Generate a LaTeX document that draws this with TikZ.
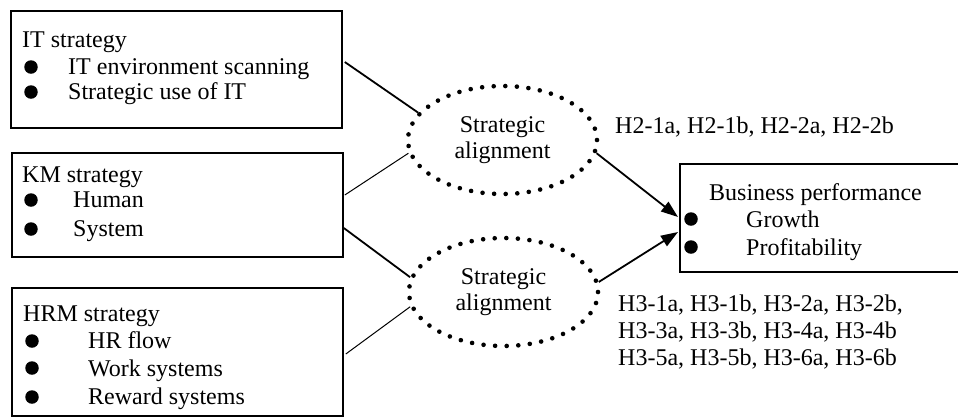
\documentclass[tikz,border=0pt]{standalone}
\usepackage{fontspec}
\setmainfont{Liberation Serif}
\usetikzlibrary{shapes.geometric,arrows.meta,calc}
\begin{document}
\begin{tikzpicture}[x=1pt,y=-1pt,
  every node/.style={font=\fontsize{24}{27}\selectfont},
  box/.style={draw, line width=1.8pt, rectangle, inner sep=0pt, anchor=north west},
  txt/.style={anchor=base west, inner sep=0pt},
  bul/.style={circle, fill, inner sep=0pt, minimum size=13.5pt},
  alignell/.style={ellipse, draw, line width=4.6pt, dash pattern=on 0pt off 11.6pt, line cap=round, minimum width=189pt, minimum height=108pt, inner sep=0pt, align=center},
  thick link/.style={line width=1.8pt},
  thin link/.style={line width=1pt},
  arr/.style={line width=1.8pt, -{Triangle[length=17pt,width=12pt]}}
]
\useasboundingbox (0,0) rectangle (958,416);

% boxes
\node[box, minimum width=331pt, minimum height=117pt] (it) at (10,10) {};
\node[box, minimum width=331pt, minimum height=104pt] (km) at (11,152) {};
\node[box, minimum width=331pt, minimum height=128pt] (hrm) at (11,287) {};
\node[box, minimum width=280pt, minimum height=108pt] (bp) at (679,163) {};

% IT strategy text
\node[txt] (itt) at (22,47) {IT strategy};
\node[bul] (itb1) at (31,67) {};
\node[txt] (it1) at (68,74) {IT environment scanning};
\node[bul] (itb2) at (31,92) {};
\node[txt] (it2) at (68,99) {Strategic use of IT};

% KM strategy text
\node[txt] (kmt) at (22,182) {KM strategy};
\node[bul] (kmb1) at (31,200) {};
\node[txt] (km1) at (73,207) {Human};
\node[bul] (kmb2) at (31,229) {};
\node[txt] (km2) at (73,236) {System};

% HRM strategy text
\node[txt] (hrmt) at (23,321) {HRM strategy};
\node[bul] (hb1) at (32,341) {};
\node[txt] (h1) at (88,348) {HR flow};
\node[bul] (hb2) at (32,368) {};
\node[txt] (h2) at (88,376) {Work systems};
\node[bul] (hb3) at (32,397) {};
\node[txt] (h3) at (88,404) {Reward systems};

% Business performance text
\node[txt] (bpt) at (709,200) {Business performance};
\node[bul] (bb1) at (691,219) {};
\node[txt] (bp1) at (746,227) {Growth};
\node[bul] (bb2) at (691,247) {};
\node[txt] (bp2) at (746,255) {Profitability};

% alignment ellipses
\node[alignell] (e1) at (502.5,140) {Strategic\\[-1pt]alignment};
\node[alignell] (e2) at (503.5,292) {Strategic\\[-1pt]alignment};

% hypotheses labels
\node[txt] (h2l) at (615,133) {H2-1a, H2-1b, H2-2a, H2-2b};
\node[txt, align=left, anchor=north west] (h3l) at (618,295) {H3-1a, H3-1b, H3-2a, H3-2b,\\H3-3a, H3-3b, H3-4a, H3-4b\\H3-5a, H3-5b, H3-6a, H3-6b};

% connectors
\draw[thick link] ($(it.north east)+(2,52)$) -- (e1.162);
\draw[thin link] ($(km.north east)+(1,43)$) -- (e1.188);
\draw[thick link] ($(km.north east)+(0,76)$) -- (e2.171);
\draw[thin link] ($(hrm.north east)+(2,67)$) -- (e2.189);
\draw[arr] (e1.-8) -- ($(bp.north west)+(-1,54)$);
\draw[arr] (e2.6) -- ($(bp.north west)+(-1,69)$);
\end{tikzpicture}
\end{document}
